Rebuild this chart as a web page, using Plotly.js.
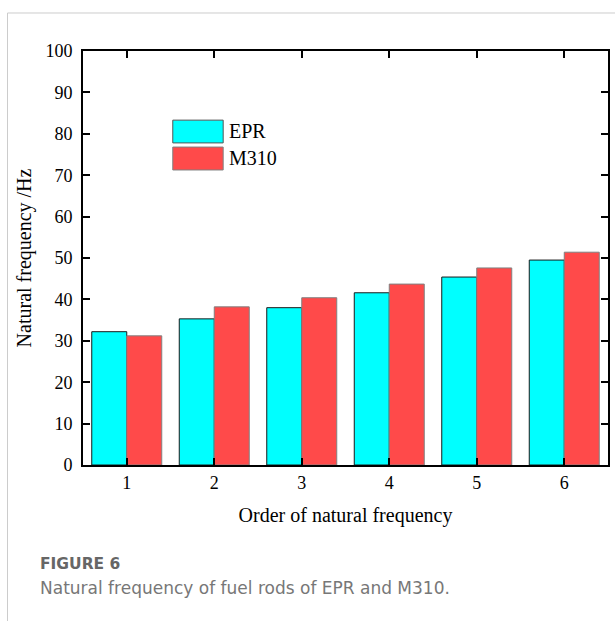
<!DOCTYPE html>
<html>
<head>
<meta charset="utf-8">
<script src="https://cdn.plot.ly/plotly-3.0.1.min.js"></script>
<style>
  html, body { margin: 0; padding: 0; background: #fff; }
  #chart { width: 615px; height: 621px; }
</style>
</head>
<body>
<div id="chart"></div>
<script>
const categories = [1, 2, 3, 4, 5, 6];
const epr = [32.2, 35.3, 38.0, 41.6, 45.4, 49.5];
const m310 = [31.2, 38.2, 40.4, 43.7, 47.6, 51.4];
const seriesNames = ['EPR', 'M310'];
const yTicks = [0, 10, 20, 30, 40, 50, 60, 70, 80, 90, 100];

const serif = 'Liberation Serif';
const cyan = '#00FFFF';
const red = '#FF4A4A';

const traces = [
  { type: 'bar', name: seriesNames[0], x: categories, y: epr,
    marker: { color: cyan, line: { color: '#1a1a1a', width: 1 } } },
  { type: 'bar', name: seriesNames[1], x: categories, y: m310,
    marker: { color: red, line: { color: '#808080', width: 1 } } }
];

function axis(extra) {
  return Object.assign({
    showline: true, linecolor: '#000', linewidth: 2, mirror: 'ticks',
    ticks: 'inside', ticklen: 7, tickwidth: 2, tickcolor: '#000',
    showgrid: false, zeroline: false,
    tickfont: { family: serif, size: 18, color: '#000' }
  }, extra);
}

const layout = {
  width: 615, height: 621,
  margin: { l: 83, r: 7, t: 51, b: 156 },
  font: { family: serif, size: 18, color: '#000' },
  paper_bgcolor: '#fff', plot_bgcolor: '#fff',
  barmode: 'group', bargap: 0.2, bargroupgap: 0,
  showlegend: false,
  xaxis: axis({
    type: 'linear',
    range: [0.5, 6.5], tickmode: 'array', tickvals: categories, ticktext: categories.map(String),
    title: { text: 'Order of natural frequency', font: { family: serif, size: 20, color: '#000' }, standoff: 16 }
  }),
  yaxis: axis({
    range: [0, 100], tickmode: 'array', tickvals: yTicks, ticktext: yTicks.map(String),
    ticklabelstandoff: 5,
    title: { text: 'Natural frequency /Hz', font: { family: serif, size: 20, color: '#000' }, standoff: 8 }
  }),
  shapes: [
    { type: 'rect', xref: 'paper', yref: 'paper', x0: 0.171, x1: 0.267, y0: 0.778, y1: 0.833,
      fillcolor: cyan, line: { color: '#555', width: 1 } },
    { type: 'rect', xref: 'paper', yref: 'paper', x0: 0.171, x1: 0.267, y0: 0.7126, y1: 0.768,
      fillcolor: red, line: { color: '#808080', width: 1 } },
    { type: 'line', xref: 'paper', yref: 'paper', x0: -0.1438, x1: 1.02, y0: 1.0918, y1: 1.0918,
      line: { color: '#cccccc', width: 1 } },
    { type: 'line', xref: 'paper', yref: 'paper', x0: -0.1438, x1: -0.1438, y0: 1.0918, y1: -0.38,
      line: { color: '#cccccc', width: 1 } }
  ],
  annotations: [
    { xref: 'paper', yref: 'paper', x: 0.274, y: 0.806, xanchor: 'left', yanchor: 'middle',
      text: seriesNames[0], showarrow: false, font: { family: serif, size: 20, color: '#000' } },
    { xref: 'paper', yref: 'paper', x: 0.274, y: 0.741, xanchor: 'left', yanchor: 'middle',
      text: seriesNames[1], showarrow: false, font: { family: serif, size: 20, color: '#000' } },
    { xref: 'paper', yref: 'paper', x: -0.0857, y: -0.239, xanchor: 'left', yanchor: 'middle',
      text: '<b>FIGURE 6</b>', showarrow: false, font: { family: 'DejaVu Sans', size: 15.5, color: '#666' } },
    { xref: 'paper', yref: 'paper', x: -0.0857, y: -0.297, xanchor: 'left', yanchor: 'middle',
      text: 'Natural frequency of fuel rods of EPR and M310.', showarrow: false,
      font: { family: 'DejaVu Sans', size: 17, color: '#777' } }
  ]
};

Plotly.newPlot('chart', traces, layout, { displayModeBar: false, staticPlot: true });
</script>
</body>
</html>
